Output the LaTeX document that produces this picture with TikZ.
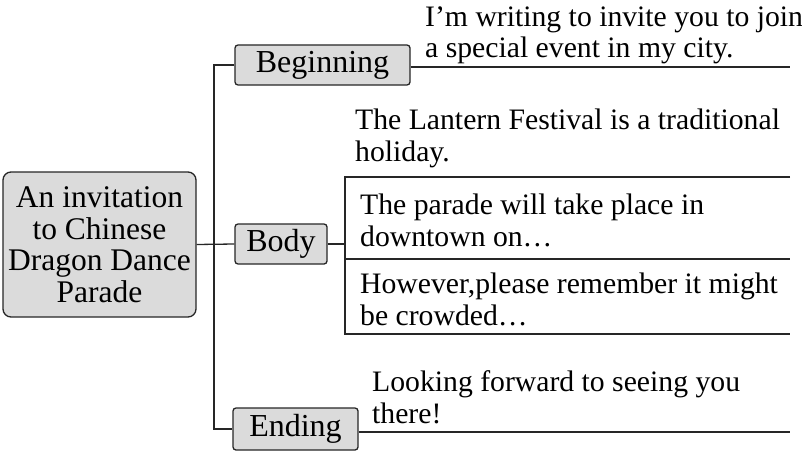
\documentclass[tikz,border=0pt]{standalone}
\usepackage{fontspec}
\setmainfont{Liberation Serif}
\usetikzlibrary{positioning}

\begin{document}
\begin{tikzpicture}[x=1pt,y=-1pt,
  box/.style={draw=black!85,line width=1.3pt,rounded corners=3pt,fill=black!14,inner sep=0pt,font=\fontsize{32}{31}\selectfont},
  note/.style={anchor=base west,align=left,inner sep=0pt,font=\fontsize{29.7}{32}\selectfont},
  link/.style={line width=1.3pt,draw=black!85}]
\useasboundingbox (0,0) rectangle (802,452);
% topic and the three parts
\node[box,rounded corners=8pt,align=center,font=\fontsize{31.5}{31.5}\selectfont,minimum width=193pt,minimum height=145pt] (topic) at (99.5,244.5) {An invitation\\to Chinese\\Dragon Dance\\Parade};
\node[box,minimum width=175pt,minimum height=40pt] (begin) at (322.5,65) {Beginning};
\node[box,minimum width=92pt,minimum height=40pt] (body) at (281,244) {Body};
\node[box,minimum width=125pt,minimum height=42pt] (ending) at (295.5,429) {Ending};
\coordinate (fork) at (214,244);
\coordinate (rim) at (790,0);
\draw[link] (topic.east) -- (body.west);
\draw[link] (begin.west) -| (fork) |- (ending.west);
% lines on the right
\draw[link] (begin.east) ++(0,2) coordinate (beginLine) -- (beginLine -| rim);
\draw[link] (ending.east) ++(0,3) coordinate (endLine) -- (endLine -| rim);
\coordinate (bodyTop) at (345,177);
\coordinate (bodyMid) at (345,259);
\coordinate (bodyBot) at (345,334);
\draw[link] (body.east) -- (body.east -| bodyTop);
\draw[link] (bodyTop -| rim) -- (bodyTop) -- (bodyBot) -- (bodyBot -| rim);
\draw[link] (bodyMid) -- (bodyMid -| rim);
% texts (base = last line)
\node[note] (beginText) at (425,58) {I’m writing to invite you to join\\a special event in my city.};
\node[note] (lantern) at (355,161) {The Lantern Festival is a traditional\\holiday.};
\node[note] (parade) at (360,246) {The parade will take place in\\downtown on…};
\node[note] (crowd) at (360,325) {However,please remember it might\\be crowded…};
\node[note] (looking) at (372,423) {Looking forward to seeing you\\there!};
\end{tikzpicture}
\end{document}
